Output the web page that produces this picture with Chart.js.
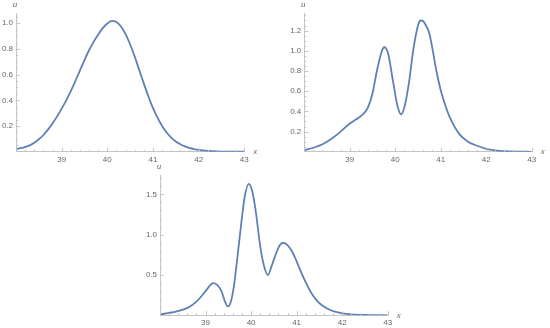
<!DOCTYPE html>
<html>
<head>
<meta charset="utf-8">
<script src="https://cdn.jsdelivr.net/npm/chart.js@4"></script>
<style>
body{margin:0;background:#fff;width:550px;height:328px;position:relative;overflow:hidden}
canvas{position:absolute}
</style>
</head>
<body>
<canvas id="c1" width="275" height="165" style="left:0;top:0"></canvas>
<canvas id="c2" width="275" height="165" style="left:275px;top:0"></canvas>
<canvas id="c3" width="290" height="168" style="left:130px;top:160px"></canvas>
<script>
// values
var x1=[38,38.1,38.2,38.3,38.4,38.5,38.6,38.7,38.8,38.9,39,39.1,39.2,39.3,39.4,39.5,39.6,39.7,39.8,39.9,
        40,40.1,40.2,40.3,40.4,40.5,40.6,40.7,40.8,40.9,41,41.1,41.2,41.3,41.4,41.5,41.6,41.7,41.8,41.9,
        42,42.2,42.4,42.6,43]
var u1=[0.02,0.027,0.036,0.049,0.069,0.097,0.13,0.172,0.22,0.275,0.335,0.4,0.472,0.55,0.632,0.713,0.79,0.855,0.913,0.962,
        0.998,1.018,1.01,0.975,0.915,0.835,0.74,0.635,0.53,0.43,0.34,0.265,0.2,0.15,0.11,0.08,0.058,0.041,0.029,0.02,
        0.014,0.007,0.003,0.001,0]

var x2=[38,38.2,38.4,38.6,38.8,39,39.1,39.2,39.3,39.4,39.5,39.6,39.7,39.73,39.77,39.81,39.85,39.95,40.05,40.13,
        40.2,40.3,40.4,40.5,40.53,40.57,40.61,40.65,40.75,40.83,40.9,41,41.1,41.2,41.4,41.6,41.8,42,42.2,42.5,43]
var u2=[0.015,0.04,0.075,0.13,0.2,0.28,0.31,0.34,0.375,0.44,0.58,0.81,0.99,1.025,1.035,1.015,0.96,0.7,0.45,0.37,
        0.44,0.68,1.02,1.25,1.29,1.3,1.295,1.27,1.17,0.99,0.81,0.61,0.46,0.34,0.18,0.1,0.06,0.03,0.014,0.003,0]

var x3=[38,38.2,38.35,38.5,38.65,38.8,38.9,39,39.1,39.16,39.25,39.35,39.42,39.49,39.55,39.62,39.7,39.78,39.86,39.95,
        40.02,40.1,40.2,40.28,40.37,40.45,40.55,40.63,40.7,40.8,40.92,41,41.11,41.2,41.33,41.45,41.55,41.7,41.84,42,
        42.2,42.5,43]
var u3=[0.01,0.03,0.045,0.07,0.107,0.17,0.23,0.3,0.37,0.4,0.38,0.3,0.18,0.11,0.16,0.35,0.72,1.12,1.47,1.63,
        1.55,1.3,0.86,0.62,0.5,0.61,0.77,0.87,0.9,0.87,0.77,0.67,0.52,0.41,0.27,0.18,0.128,0.075,0.045,0.025,
        0.012,0.004,0]

var xTicks=[39,40,41,42,43]
var yTicks1=[0.2,0.4,0.6,0.8,1.0]
var yTicks2=[0.2,0.4,0.6,0.8,1.0,1.2]
var yTicks3=[0.5,1.0,1.5]

var axisCol='#c4c4c4'
var textCol='#666666'
var lineCol='#5e81b5'

var deco={
  id:'deco',
  afterDraw:function(c){
    var ctx=c.ctx,a=c.chartArea,xs=c.scales.x,ys=c.scales.y,o=c.options.plugins.deco
    ctx.save()
    ctx.strokeStyle=axisCol
    ctx.lineWidth=1
    var v,p,big
    for(v=38;v<=43.0001;v+=0.2){
      p=Math.round(xs.getPixelForValue(v))+0.5
      big=Math.abs(v-Math.round(v))<1e-6
      ctx.beginPath();ctx.moveTo(p,a.bottom);ctx.lineTo(p,a.bottom-(big?4:2));ctx.stroke()
    }
    for(v=o.ymin;v<=ys.max;v+=o.ymin){
      p=Math.round(ys.getPixelForValue(v))+0.5
      big=o.yt.some(function(t){return Math.abs(t-v)<1e-6})
      ctx.beginPath();ctx.moveTo(a.left,p);ctx.lineTo(a.left+(big?4:2),p);ctx.stroke()
    }
    ctx.fillStyle=textCol
    ctx.font='italic 9px "Liberation Serif"'
    ctx.textAlign='center'
    ctx.textBaseline='middle'
    ctx.fillText('x',a.right+11,a.bottom)
    ctx.fillText('u',a.left-1,a.top-8)
    ctx.restore()
  }
}

function mk(id,xs,us,yt,ymax,ymin,L,T,R,B){
  var el=document.getElementById(id)
  var pts=[]
  for(var i=0;i<xs.length;i++) pts.push({x:xs[i],y:us[i]})
  return new Chart(el.getContext('2d'),{
    type:'line',
    data:{datasets:[{data:pts,borderColor:lineCol,borderWidth:1.8,pointRadius:0,fill:false,cubicInterpolationMode:'monotone'}]},
    options:{
      responsive:false,
      animation:false,
      layout:{padding:{left:0,top:T,right:R,bottom:0}},
      plugins:{legend:{display:false},tooltip:{enabled:false},deco:{yt:yt,ymin:ymin}},
      scales:{
        x:{
          type:'linear',min:38,max:43,
          grid:{display:true,drawOnChartArea:false,drawTicks:false},
          border:{display:true,color:axisCol},
          afterBuildTicks:function(s){s.ticks=xTicks.map(function(v){return {value:v}})},
          ticks:{color:textCol,font:{family:'Liberation Sans',size:8},padding:3,maxRotation:0,autoSkip:false,
                 callback:function(v){return String(v)}},
          afterFit:function(s){s.height=el.height-B}
        },
        y:{
          type:'linear',min:0,max:ymax,
          grid:{display:true,drawOnChartArea:false,drawTicks:false},
          border:{display:true,color:axisCol},
          afterBuildTicks:function(s){s.ticks=yt.map(function(v){return {value:v}})},
          ticks:{color:textCol,font:{family:'Liberation Sans',size:8},padding:3,autoSkip:false,
                 callback:function(v){return v.toFixed(1)}},
          afterFit:function(s){s.width=L}
        }
      }
    },
    plugins:[deco]
  })
}

mk('c1',x1,u1,yTicks1,1.08,0.05,16,13,30.7,151.7)
mk('c2',x2,u2,yTicks2,1.374,0.05,29.3,13,18.3,151.8)
mk('c3',x3,u3,yTicks3,1.74,0.1,30,15,32.3,155.3)
</script>
</body>
</html>
